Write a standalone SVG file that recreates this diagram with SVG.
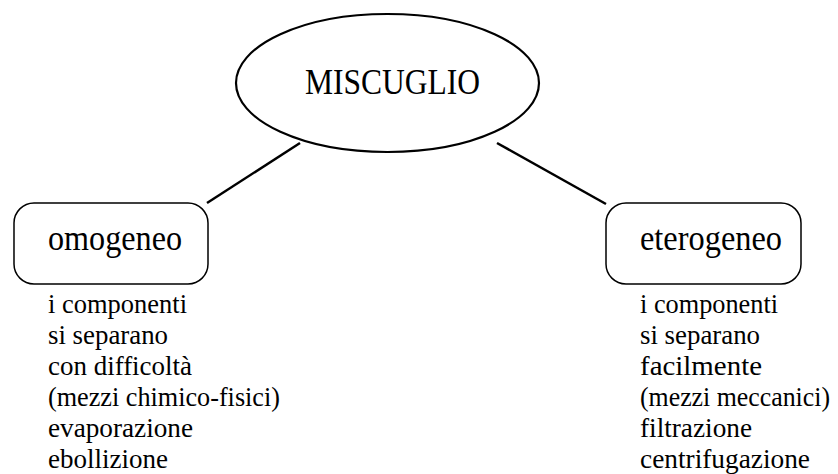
<svg xmlns="http://www.w3.org/2000/svg" width="838" height="474" viewBox="0 0 838 474">
<style>
  .ell { fill: #ffffff; stroke: #000000; stroke-width: 2.2; }
  .box { fill: #ffffff; stroke: #000000; stroke-width: 1.5; }
  .conn { stroke: #000000; stroke-width: 2.5; fill: none; }
</style>
<rect width="838" height="474" fill="#ffffff"/>
<g id="connectors">
  <line class="conn" x1="300" y1="143" x2="207" y2="203"/>
  <line class="conn" x1="497" y1="143" x2="606" y2="204"/>
</g>
<g id="miscuglio">
  <ellipse class="ell" cx="387.5" cy="83" rx="151.5" ry="69"/>
  <text x="305" y="94" font-family="'Liberation Serif', serif" font-size="35" textLength="175" lengthAdjust="spacingAndGlyphs">MISCUGLIO</text>
</g>
<g id="omogeneo">
  <rect class="box" x="14" y="203" width="194" height="81" rx="20" ry="20"/>
  <text x="48" y="250" font-family="'Liberation Serif', serif" font-size="35" textLength="134" lengthAdjust="spacingAndGlyphs">omogeneo</text>
</g>
<g id="eterogeneo">
  <rect class="box" x="606" y="203" width="195" height="81" rx="20" ry="20"/>
  <text x="640" y="250" font-family="'Liberation Serif', serif" font-size="35" textLength="142" lengthAdjust="spacingAndGlyphs">eterogeneo</text>
</g>
<g id="omogeneo-desc">
  <text x="48" y="313" font-family="'Liberation Serif', serif" font-size="28" textLength="139" lengthAdjust="spacingAndGlyphs">i componenti</text>
  <text x="48" y="344" font-family="'Liberation Serif', serif" font-size="28" textLength="120" lengthAdjust="spacingAndGlyphs">si separano</text>
  <text x="48" y="375" font-family="'Liberation Serif', serif" font-size="28" textLength="144" lengthAdjust="spacingAndGlyphs">con difficoltà</text>
  <text x="48" y="406" font-family="'Liberation Serif', serif" font-size="28" textLength="232" lengthAdjust="spacingAndGlyphs">(mezzi chimico-fisici)</text>
  <text x="48" y="437" font-family="'Liberation Serif', serif" font-size="28" textLength="145" lengthAdjust="spacingAndGlyphs">evaporazione</text>
  <text x="48" y="468" font-family="'Liberation Serif', serif" font-size="28" textLength="120" lengthAdjust="spacingAndGlyphs">ebollizione</text>
</g>
<g id="eterogeneo-desc">
  <text x="640" y="313" font-family="'Liberation Serif', serif" font-size="28" textLength="138" lengthAdjust="spacingAndGlyphs">i componenti</text>
  <text x="640" y="344" font-family="'Liberation Serif', serif" font-size="28" textLength="120" lengthAdjust="spacingAndGlyphs">si separano</text>
  <text x="640" y="375" font-family="'Liberation Serif', serif" font-size="28" textLength="122" lengthAdjust="spacingAndGlyphs">facilmente</text>
  <text x="640" y="406" font-family="'Liberation Serif', serif" font-size="28" textLength="190" lengthAdjust="spacingAndGlyphs">(mezzi meccanici)</text>
  <text x="640" y="437" font-family="'Liberation Serif', serif" font-size="28" textLength="112" lengthAdjust="spacingAndGlyphs">filtrazione</text>
  <text x="640" y="468" font-family="'Liberation Serif', serif" font-size="28" textLength="170" lengthAdjust="spacingAndGlyphs">centrifugazione</text>
</g>
</svg>
